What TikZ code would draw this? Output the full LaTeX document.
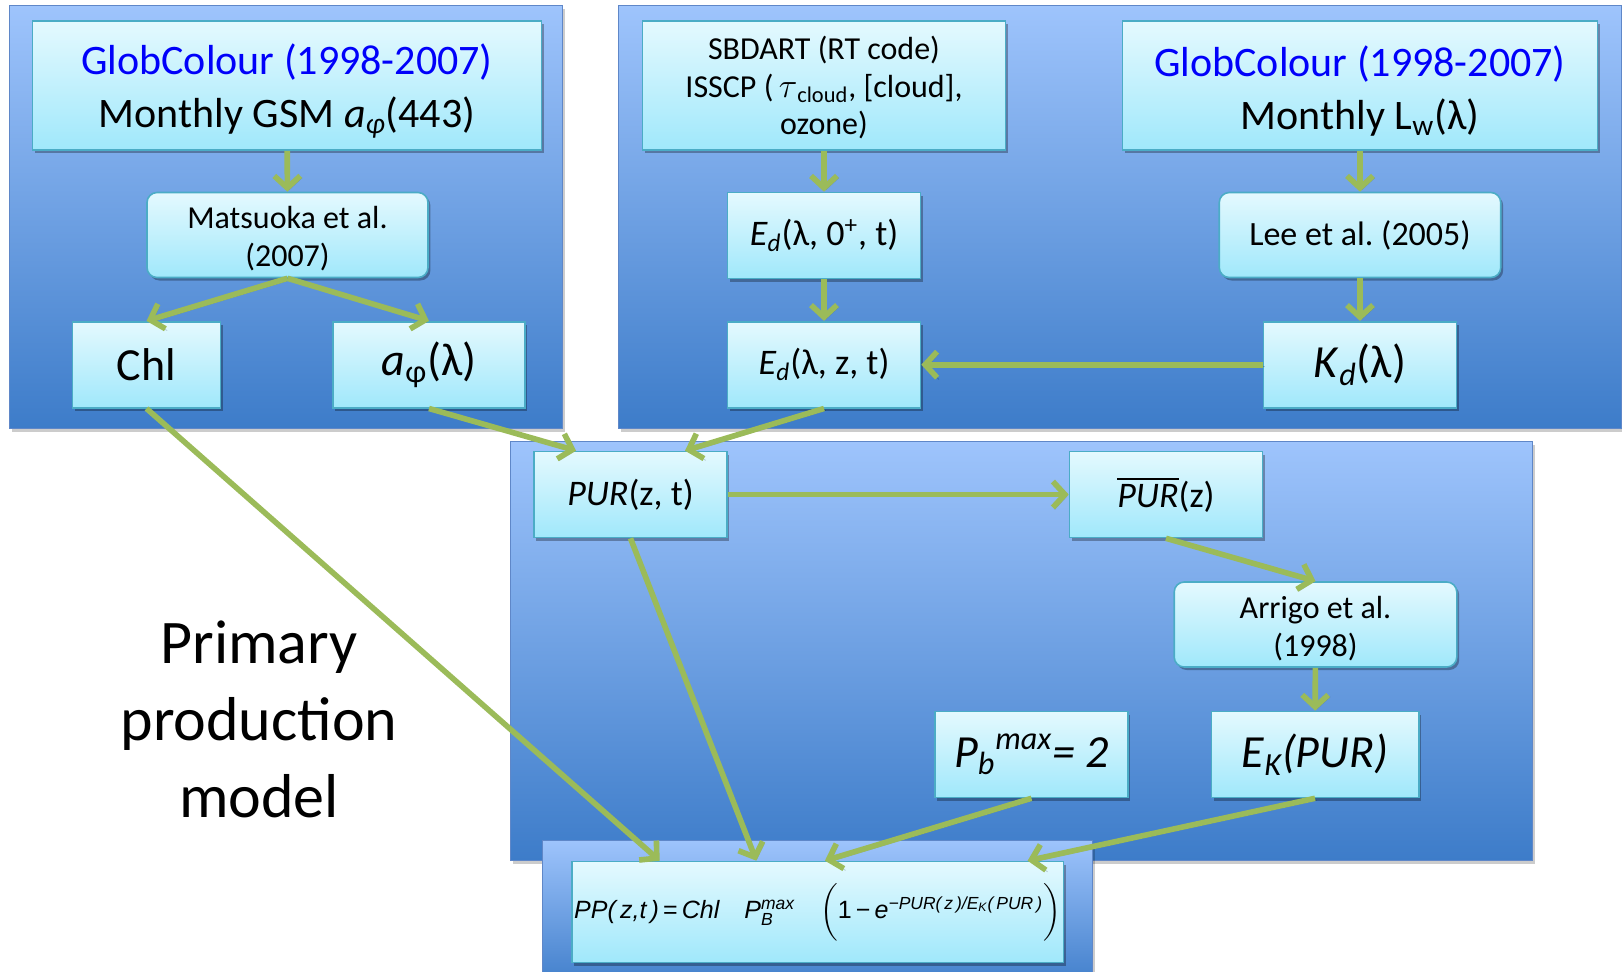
\documentclass[tikz,border=0pt]{standalone}
\usepackage{fontspec}
\setmainfont{Carlito}
\newfontfamily\arialfont{Liberation Sans}
\usepackage{amsmath}
\usetikzlibrary{arrows.meta,shadows,calc}
\definecolor{panelTop}{RGB}{158,196,252}
\definecolor{panelBot}{RGB}{61,124,201}
\definecolor{panelEdge}{RGB}{95,135,200}
\definecolor{boxTop}{RGB}{228,249,254}
\definecolor{boxBot}{RGB}{160,232,251}
\definecolor{boxEdge}{RGB}{75,172,198}
\definecolor{flowGreen}{RGB}{155,187,89}
\definecolor{globBlue}{RGB}{0,0,250}
\frenchspacing
\tikzset{
  panel/.style = {draw=panelEdge, line width=0.4pt, top color=panelTop,
    bottom color=panelBot, drop shadow={shadow xshift=1.5pt,
    shadow yshift=-2pt, fill=black, opacity=0.2}},% blue background
  box/.style = {draw=boxEdge, line width=0.8pt, top color=boxTop,
    bottom color=boxBot, align=center, inner sep=1pt,
    minimum width=96.5pt, minimum height=43pt,
    drop shadow={shadow xshift=1.2pt, shadow yshift=-1.5pt,
    fill=black, opacity=0.3}},% light box, one quantity
  rbox/.style = {box, rounded corners=5pt},% light box, one method
  wbox/.style = {box, minimum height=64.5pt},% light box, data source
  txtbig/.style = {font=\fontsize{21}{26.5}\selectfont},
  txtmid/.style = {font=\fontsize{18}{22}\selectfont},
  txtsmall/.style = {font=\fontsize{16}{18.8}\selectfont},
  txtlarge/.style = {font=\fontsize{23}{28}\selectfont},
  flow/.style = {->, draw=flowGreen, line width=2.8pt,
    preaction={draw=black, opacity=0.18,
    transform canvas={shift={(0.9pt,-0.9pt)}}}}% green connector
}

\begin{document}
\begin{tikzpicture}[x=0.5pt, y=-0.5pt,
  >={Straight Barb[length=6pt,width=13pt]}]
\useasboundingbox (0,0) rectangle (1622,971);
% backgrounds
\path[panel] (9,5) rectangle (562,428);
\path[panel] (618,5) rectangle (1621,428);
\path[panel] (510,441) rectangle (1532,860);
\path[panel] (542,840) rectangle (1092,990);
% left part
\node [wbox, txtbig, minimum width=254.5pt] (globL) at (287,85.5)
  {\rule{0pt}{21pt}\textcolor{globBlue}{GlobColour (1998-2007)}\\
   Monthly GSM \textit{a}\textsubscript{\textit{φ}}(443)};
\node [rbox, txtsmall, minimum width=140.5pt, minimum height=42.5pt] (mats)
  at (287.5,235) {\rule{0pt}{15pt}Matsuoka et al.\\(2007)};
\node [box, txtlarge, minimum width=74pt] (chl) at (146.5,364.7) {Chl};
\node [box, txtlarge, minimum width=96pt] (aphi) at (429,364.7)
  {\textit{a}\textsubscript{φ}(λ)};
% right part
\node [wbox, txtsmall, minimum width=181.5pt] (sbdart) at (824,85.5)
  {\rule{0pt}{14pt}SBDART (RT code)\\ISSCP (\,$\tau$\textsubscript{cloud}, [cloud],\\ozone)};
\node [wbox, txtbig, minimum width=237.5pt] (globR) at (1360,85.5)
  {\rule{0pt}{21pt}\textcolor{globBlue}{GlobColour (1998-2007)}\\
   Monthly L\textsubscript{w}(λ)};
\node [box, txtmid] (ed0) at (824,235.5)
  {\textit{E}\textsubscript{\textit{d}}(λ, 0\textsuperscript{+}, t)};
\node [rbox, font=\fontsize{17}{20}\selectfont,
  minimum width=140.75pt, minimum height=42.5pt] (lee) at (1360,235)
  {Lee et al. (2005)};
\node [box, txtmid] (edz) at (824,364.7)
  {\textit{E}\textsubscript{\textit{d}}(λ, z, t)};
\node [box, txtlarge] (kd) at (1360,364.7)
  {\textit{K}\textsubscript{\textit{d}}(λ)};
% middle part
\node [box, txtmid] (pur) at (630.5,494.5) {\textit{PUR}(z, t)};
\node [box, txtmid] (purbar) at (1166,494.5)
  {$\overline{\hbox{\itshape PUR}}$(z)};
\node [rbox, txtsmall, minimum width=141.3pt, minimum height=42.5pt]
  (arrigo) at (1315.5,624.5) {\rule{0pt}{15pt}Arrigo et al.\\(1998)};
\node [box, txtlarge] (pb) at (1031.5,754.5)
  {\textit{P\textsubscript{b}\textsuperscript{max}= 2}};
\node [box, txtlarge, minimum width=103.7pt] (ek) at (1315,754.5)
  {\textit{E\textsubscript{K}(PUR)}};
\node [box, minimum width=245.8pt, minimum height=50.5pt,
  font=\arialfont\fontsize{12.5}{15}\selectfont] (formula) at (817.5,912)
  {\itshape PP(\,z,t\,)\,{\upshape =}\,Chl\quad
   P$^{\text{max}}_{\text{B}}$\quad$\biggl($\upshape 1\,−\,\itshape
   e$^{\text{−PUR(\,z\,)/E$_{\text{K}}$(\,PUR\,)}}$$\biggr)$};
\node [align=center, font=\fontsize{31}{38.5}\selectfont] (title)
  at (259,719) {Primary\\production\\model};
% connectors
\draw[flow] (globL) -- (mats);
\draw[flow] (mats.south) -- (chl.north);
\draw[flow] (mats.south) -- (aphi.north);
\draw[flow] (sbdart) -- (ed0);
\draw[flow] (ed0) -- (edz);
\draw[flow] (globR) -- (lee);
\draw[flow] (lee) -- (kd);
\draw[flow] (kd) -- (edz);
\draw[flow] (aphi.south) -- ($(pur.north west)!0.22!(pur.north east)$);
\draw[flow] (edz.south) -- ($(pur.north west)!0.78!(pur.north east)$);
\draw[flow] (pur) -- (purbar);
\draw[flow] (purbar.south) -- (arrigo.north);
\draw[flow] (arrigo) -- (ek);
\draw[flow] (chl.south) -- ($(formula.north west)!0.18!(formula.north east)$);
\draw[flow] (pur.south) -- ($(formula.north west)!0.376!(formula.north east)$);
\draw[flow] (pb.south) -- ($(formula.north west)!0.515!(formula.north east)$);
\draw[flow] (ek.south) -- ($(formula.north west)!0.926!(formula.north east)$);
\end{tikzpicture}
\end{document}
